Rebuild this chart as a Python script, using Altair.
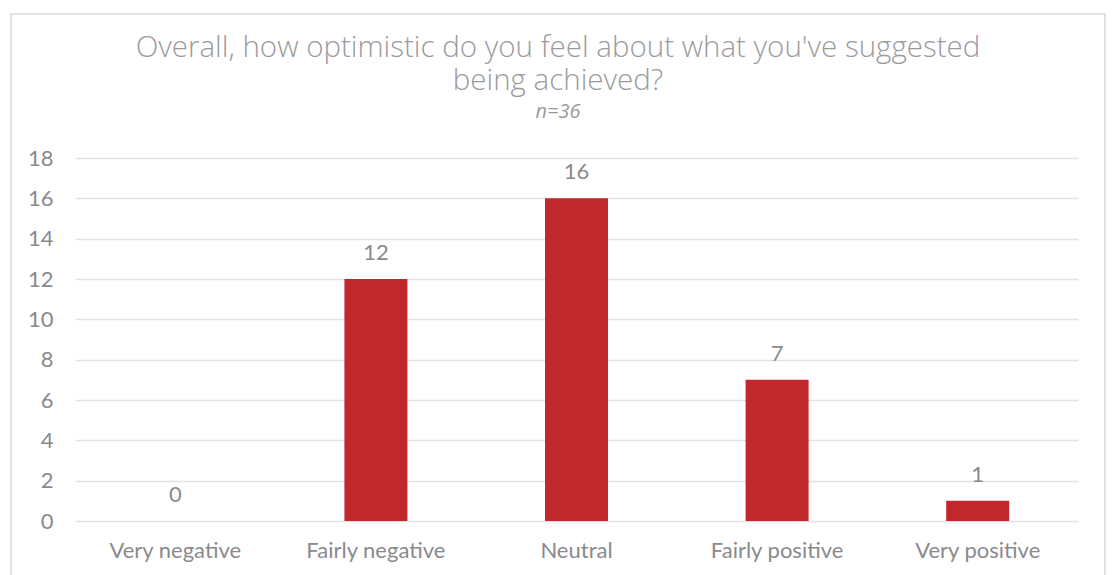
import altair as alt
import pandas as pd

categories = ["Very negative", "Fairly negative", "Neutral", "Fairly positive", "Very positive"]
counts = [0, 12, 16, 7, 1]
y_ticks = [0, 2, 4, 6, 8, 10, 12, 14, 16, 18]

title_lines = ["Overall, how optimistic do you feel about what you've suggested", "being achieved?"]
subtitle = "n=36"

df = pd.DataFrame({"category": categories, "count": counts})
one = pd.DataFrame({"k": [0]})

BAR = "#C0282E"
TEXT = "#8a8a8d"
TITLE = "#9b9b9e"
GRID = "#e2e2e2"

x_enc = alt.X(
    "category:N",
    sort=categories,
    scale=alt.Scale(paddingInner=0.686, paddingOuter=0.343),
    axis=alt.Axis(title=None, labelAngle=0, labelFont="Lato", labelFontSize=22,
                  labelColor=TEXT, labelPadding=19, ticks=False, domain=False),
)
y_enc = alt.Y(
    "count:Q",
    scale=alt.Scale(domain=[0, 18], nice=False),
    axis=alt.Axis(title=None, values=y_ticks, labelFont="Lato", labelFontSize=22,
                  labelColor=TEXT, labelPadding=22, ticks=False, domain=False,
                  grid=True, gridColor=GRID, gridWidth=1.5),
)

bars = alt.Chart(df).mark_bar(color=BAR).encode(x=x_enc, y=y_enc)

labels = alt.Chart(df).mark_text(
    font="Lato", fontSize=22, color=TEXT, baseline="alphabetic", dy=-19
).encode(x=alt.X("category:N", sort=categories), y="count:Q", text="count:Q")

# outer frame around the whole figure
frame = alt.Chart(one).mark_rect(
    fill=None, stroke="#d9d9d9", strokeWidth=1.5, clip=False
).encode(x=alt.value(-64), x2=alt.value(1030), y=alt.value(-144), y2=alt.value(440))

# heading: a two-line title and the sample size, centred on the frame
head = dict(font="Open Sans", color=TITLE, align="center", baseline="alphabetic", clip=False)
title = alt.Chart(one).mark_text(
    text=title_lines, fontSize=29.5, fontWeight=300, lineHeight=33, **head
).encode(x=alt.value(483), y=alt.value(-101))
sub = alt.Chart(one).mark_text(
    text=subtitle, fontSize=20, fontWeight="normal", fontStyle="italic", **head
).encode(x=alt.value(483), y=alt.value(-40))

chart = alt.layer(frame, bars, labels, title, sub).properties(
    width=1003,
    height=363,
    padding={"left": 75, "top": 158, "right": 34, "bottom": 54},
    autosize=alt.AutoSizeParams(type="none"),
).configure_view(stroke=None)

chart.save("out.html", embed_options={"renderer": "svg", "actions": False})
